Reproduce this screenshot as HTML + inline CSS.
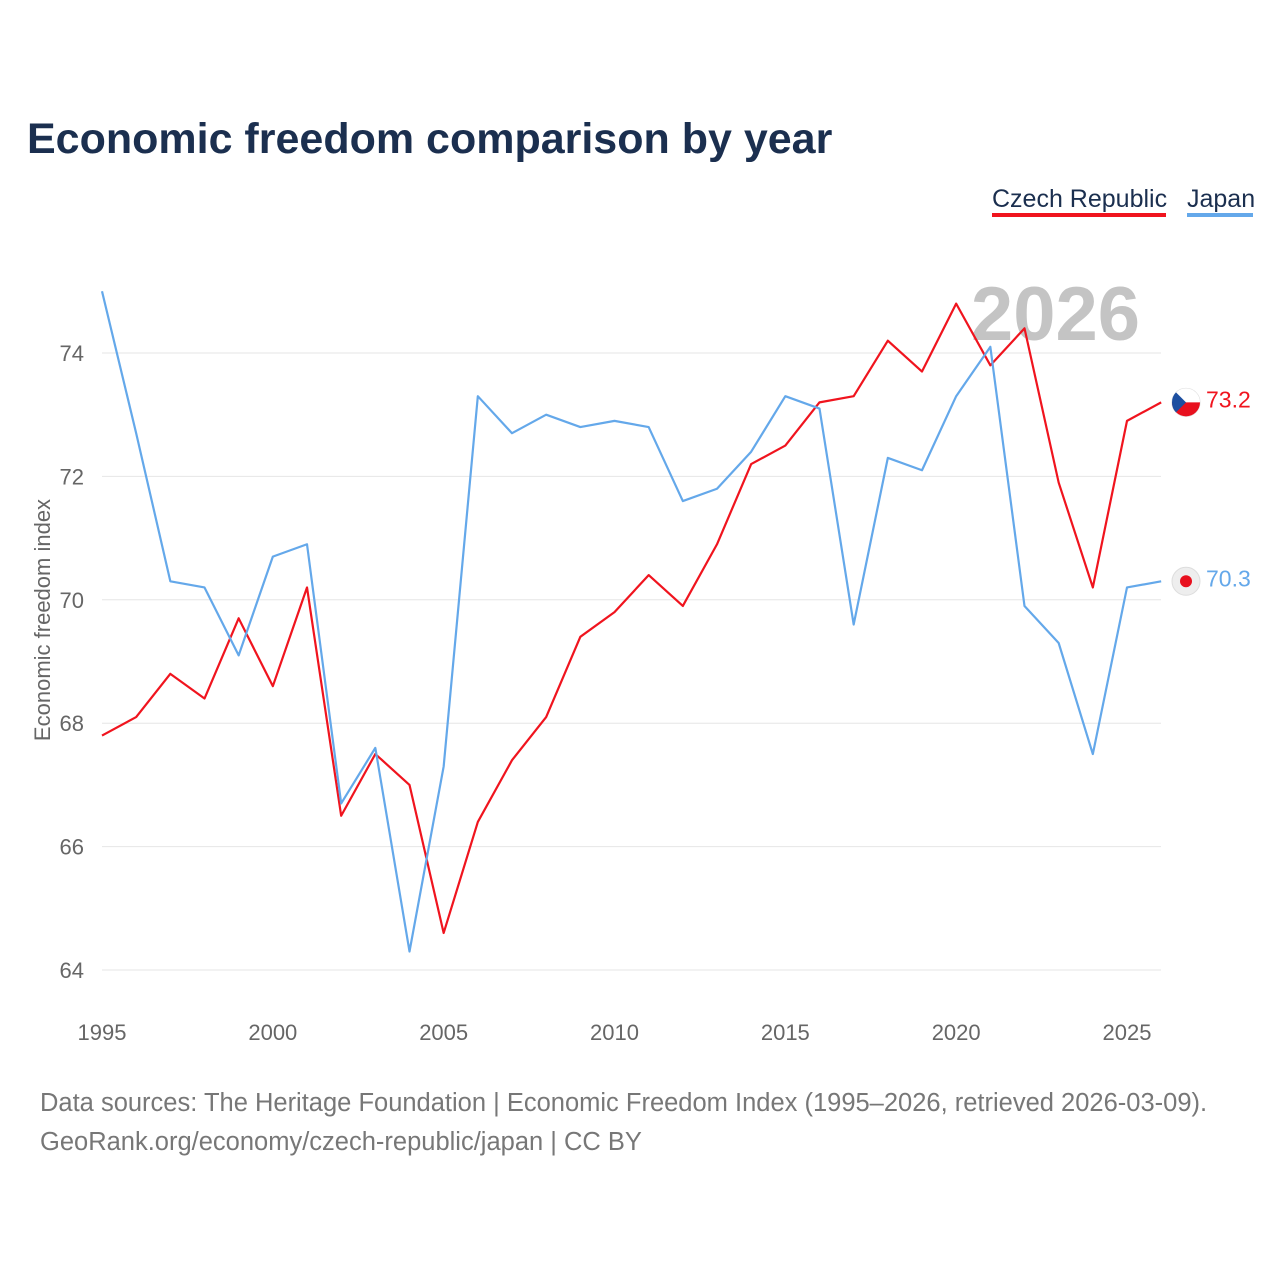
<!DOCTYPE html>
<html><head><meta charset="utf-8">
<style>
body{margin:0;background:#fff;font-family:"Liberation Sans",sans-serif;}
svg{display:block}
</style></head>
<body>
<svg id="chart" width="1280" height="1280" xmlns="http://www.w3.org/2000/svg">
<text x="27" y="153" font-size="43" font-weight="bold" fill="#1b2f4f">Economic freedom comparison by year</text>
<g>
<text x="992" y="207" font-size="25" fill="#1b2f4f">Czech Republic</text>
<rect x="992" y="213" width="174" height="4" fill="#f0141e"/>
<text x="1187" y="207" font-size="25" fill="#1b2f4f">Japan</text>
<rect x="1187" y="213" width="66" height="4" fill="#64a8ea"/>
</g>
<text x="1140" y="340" font-size="76" font-weight="bold" fill="#c4c4c4" text-anchor="end">2026</text>
<g id="grid"></g>
<g id="yticks"></g>
<g id="xticks"></g>
<text transform="translate(50,620) rotate(-90)" font-size="22" fill="#666" text-anchor="middle">Economic freedom index</text>
<g id="lines"></g>
<g id="ends"></g>
<text x="40" y="1111" font-size="25.5" fill="#777">Data sources: The Heritage Foundation | Economic Freedom Index (1995–2026, retrieved 2026-03-09).</text>
<text x="40" y="1150" font-size="25.5" fill="#777">GeoRank.org/economy/czech-republic/japan | CC BY</text>
</svg>
<script>
const years = [1995,1996,1997,1998,1999,2000,2001,2002,2003,2004,2005,2006,2007,2008,2009,2010,2011,2012,2013,2014,2015,2016,2017,2018,2019,2020,2021,2022,2023,2024,2025,2026];
const czech = [67.8,68.1,68.8,68.4,69.7,68.6,70.2,66.5,67.5,67.0,64.6,66.4,67.4,68.1,69.4,69.8,70.4,69.9,70.9,72.2,72.5,73.2,73.3,74.2,73.7,74.8,73.8,74.4,71.9,70.2,72.9,73.2];
const japan = [75.0,72.7,70.3,70.2,69.1,70.7,70.9,66.7,67.6,64.3,67.3,73.3,72.7,73.0,72.8,72.9,72.8,71.6,71.8,72.4,73.3,73.1,69.6,72.3,72.1,73.3,74.1,69.9,69.3,67.5,70.2,70.3];
const yTicks = [64,66,68,70,72,74];
const xTicks = [1995,2000,2005,2010,2015,2020,2025];
const NS="http://www.w3.org/2000/svg";
const x = v => 102 + (v-1995)*(1127-102)/30;
const y = v => 353 - (v-74)*(970-353)/10;
function mk(tag, attrs, parent){const e=document.createElementNS(NS,tag);for(const k in attrs)e.setAttribute(k,attrs[k]);parent.appendChild(e);return e;}
const grid=document.getElementById('grid'), yt=document.getElementById('yticks'), xt=document.getElementById('xticks');
yTicks.forEach(t=>{
  const l=mk('line',{x1:102,x2:1161,y1:y(t),y2:y(t),stroke:'#e6e6e6','stroke-width':1},grid);
  
  
  const tx=mk('text',{x:84,y:y(t)+8,'font-size':22,fill:'#666','text-anchor':'end'},yt);
  tx.textContent=t;
  
  
});
xTicks.forEach(t=>{
  const tx=mk('text',{x:x(t),y:1040,'font-size':22,fill:'#666','text-anchor':'middle'},xt);
  tx.textContent=t;
  
  
});
const lines=document.getElementById('lines'), ends=document.getElementById('ends');
function series(vals,color,name){
  const p=mk('polyline',{points:vals.map((v,i)=>x(years[i])+','+y(v)).join(' '),fill:'none',stroke:color,'stroke-width':2.2,'stroke-linejoin':'round'},lines);
  
  
  const last=vals[vals.length-1], ly=y(last);
  const c=mk('circle',{cx:1186,cy:ly,r:14,fill:'#eee',stroke:'#ddd','stroke-width':1},ends);
  
  
  return ly;
}
const cy=series(czech,'#f0141e','czech');
const jy=series(japan,'#64a8ea','japan');
mk('path',{d:`M1172 ${cy} A14 14 0 0 1 1200 ${cy} Z`,fill:'#fff'},ends);
mk('path',{d:`M1172 ${cy} A14 14 0 0 0 1200 ${cy} Z`,fill:'#e8101e'},ends);
mk('path',{d:`M1172 ${cy} L1186 ${cy} L1176 ${cy-10} A14 14 0 0 0 1172 ${cy} Z M1172 ${cy} L1186 ${cy} L1176 ${cy+10} A14 14 0 0 1 1172 ${cy} Z`,fill:'#1d4fa0'},ends);
mk('circle',{cx:1186,cy:jy,r:6,fill:'#e8101e'},ends);
const t1=mk('text',{x:1206,y:cy+5,'font-size':23,fill:'#f0141e'},ends);
t1.textContent=czech[czech.length-1].toFixed(1);


const t2=mk('text',{x:1206,y:jy+5,'font-size':23,fill:'#64a8ea'},ends);
t2.textContent=japan[japan.length-1].toFixed(1);


</script>
</body></html>
